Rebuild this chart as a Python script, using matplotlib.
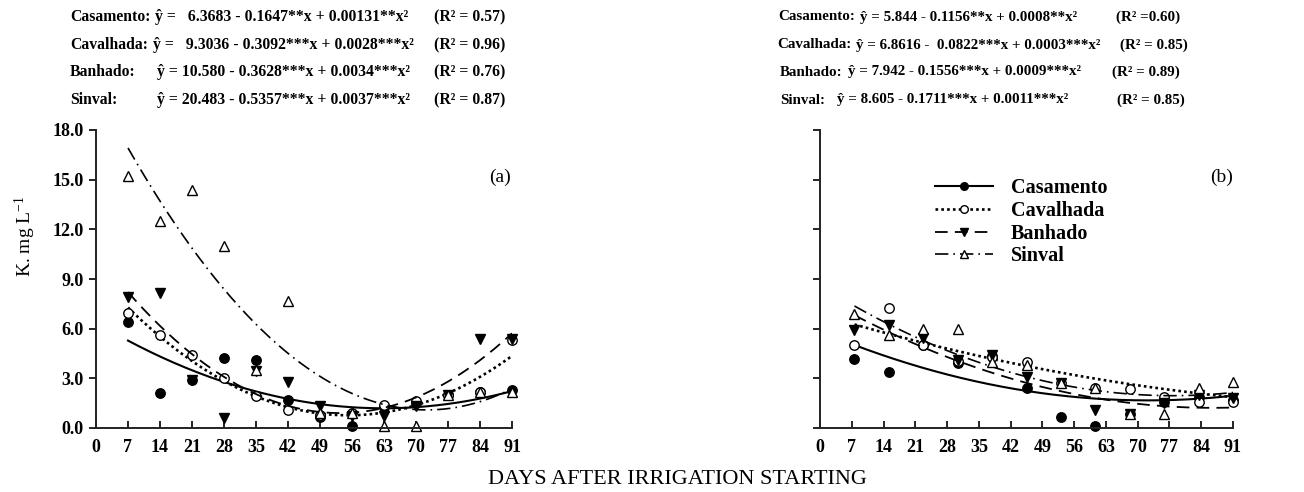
import numpy as np
import matplotlib
matplotlib.use('Agg')
import matplotlib.pyplot as plt
from matplotlib.lines import Line2D

plt.rcParams['font.family'] = ['Liberation Serif', 'DejaVu Serif']
plt.rcParams['mathtext.default'] = 'regular'

# datos
dias_a = [7, 14, 21, 28, 35, 42, 49, 56, 63, 70, 77, 84, 91]
casamento_a = [6.4, 2.1, 2.9, 4.25, 4.1, 1.7, 0.65, 0.12, 1.25, 1.5, 2.0, 2.2, 2.3]
cavalhada_a = [6.95, 5.6, 4.4, 3.05, 1.95, 1.1, 0.8, 0.9, 1.4, 1.65, 2.0, 2.2, 5.3]
banhado_a = [7.9, 8.15, 2.9, 0.6, 3.45, 2.8, 1.3, 0.7, 0.7, 1.3, 2.0, 5.35, 5.4]
sinval_a = [15.2, 12.5, 14.4, 11.0, 3.5, 7.7, 0.9, 0.9, 0.12, 0.12, 2.0, 2.2, 2.2]

dias_b = [7.6, 15.2, 22.8, 30.3, 37.9, 45.5, 53.1, 60.7, 68.3, 75.8, 83.4, 91.0]
casamento_b = [4.15, 3.4, 5.0, 3.95, 4.35, 2.4, 0.65, 0.15, 0.85, 1.6, 1.9, 1.7]
cavalhada_b = [5.0, 7.25, 5.0, 4.05, 4.3, 4.0, 2.7, 2.4, 2.35, 1.85, 1.6, 1.6]
banhado_b = [5.9, 6.2, 5.45, 4.1, 4.4, 3.1, 2.7, 1.1, 0.85, 1.5, 2.0, 1.8]
sinval_b = [6.9, 5.6, 6.0, 6.0, 4.0, 3.8, 2.7, 2.4, 0.85, 0.85, 2.4, 2.8]

# coeficientes de las ecuaciones (c0, c1, c2)
coef_casamento_a = [6.3683, -0.1647, 0.00131]
coef_cavalhada_a = [9.3036, -0.3092, 0.0028]
coef_banhado_a = [10.580, -0.3628, 0.0034]
coef_sinval_a = [20.483, -0.5357, 0.0037]
coef_casamento_b = [5.844, -0.1156, 0.0008]
coef_cavalhada_b = [6.8616, -0.0822, 0.0003]
coef_banhado_b = [7.942, -0.1556, 0.0009]
coef_sinval_b = [8.605, -0.1711, 0.0011]

nombres = ['Casamento', 'Cavalhada', 'Banhado', 'Sinval']
ticks_x = [0, 7, 14, 21, 28, 35, 42, 49, 56, 63, 70, 77, 84, 91]
ticks_y = [0.0, 3.0, 6.0, 9.0, 12.0, 15.0, 18.0]

estilos = [
    dict(ls='-', lw=1.5, marker='o', mfc='black', mec='black'),
    dict(ls=(0, (1, 1.2)), lw=1.9, marker='o', mfc='white', mec='black'),
    dict(ls=(0, (7, 4)), lw=1.3, marker='v', mfc='black', mec='black'),
    dict(ls=(0, (8, 3, 1, 3)), lw=1.2, marker='^', mfc='white', mec='black'),
]

W, H = 1304, 492
fig = plt.figure(figsize=(W / 100, H / 100), dpi=100)


def px(x0, y0, x1, y1):
    return [x0 / W, 1 - y1 / H, (x1 - x0) / W, (y1 - y0) / H]


def panel(ax, dias, series, coefs, etiqueta, pos_etiqueta, ylabels):
    for s, c, st in zip(series, coefs, estilos):
        xs = np.linspace(dias[0], dias[-1], 200)
        ys = c[0] + c[1] * xs + c[2] * xs ** 2
        ax.plot(xs, ys, color='black', ls=st['ls'], lw=st['lw'])
        ax.plot(dias, s, ls='none', marker=st['marker'], ms=6.8,
                mfc=st['mfc'], mec=st['mec'], mew=1.0, clip_on=False)
    ax.set_xlim(0, 91)
    ax.set_ylim(0, 18)
    ax.set_xticks(ticks_x)
    ax.set_yticks(ticks_y)
    if ylabels:
        ax.set_yticklabels(['%.1f' % t for t in ticks_y])
    else:
        ax.set_yticklabels([])
    for sp in ['top', 'right']:
        ax.spines[sp].set_visible(False)
    for sp in ['left', 'bottom']:
        ax.spines[sp].set_linewidth(1.4)
        ax.spines[sp].set_color('#222222')
    ax.tick_params(axis='x', direction='in', length=5, width=1.2,
                   labelsize=13, pad=8)
    ax.tick_params(axis='y', direction='out', length=5, width=1.2,
                   labelsize=13, pad=4)
    for lab in ax.get_xticklabels() + ax.get_yticklabels():
        lab.set_fontweight('bold')
    ax.text(pos_etiqueta, 0.84, etiqueta, transform=ax.transAxes, fontsize=14,
            ha='center', va='center')


ax1 = fig.add_axes(px(96, 130, 512, 428))
ax2 = fig.add_axes(px(820, 130, 1233, 428))

panel(ax1, dias_a, [casamento_a, cavalhada_a, banhado_a, sinval_a],
      [coef_casamento_a, coef_cavalhada_a, coef_banhado_a, coef_sinval_a], '(a)', 0.97, True)
panel(ax2, dias_b, [casamento_b, cavalhada_b, banhado_b, sinval_b],
      [coef_casamento_b, coef_cavalhada_b, coef_banhado_b, coef_sinval_b], '(b)', 0.972, False)

handles = [Line2D([], [], color='black', ls=st['ls'], lw=st['lw'], marker=st['marker'],
                  ms=5.5, mfc=st['mfc'], mec=st['mec']) for st in estilos]
fig.legend(handles, nombres, loc='upper left', bbox_to_anchor=(935 / W, 1 - 178 / H),
           frameon=False, handlelength=2.9, handletextpad=0.85,
           labelspacing=0.14, borderpad=0, borderaxespad=0,
           prop={'weight': 'bold', 'size': 14.5})

# ecuaciones
eq_a = ['ŷ =   6.3683 - 0.1647**x + 0.00131**x²',
        'ŷ =   9.3036 - 0.3092***x + 0.0028***x²',
        'ŷ = 10.580 - 0.3628***x + 0.0034***x²',
        'ŷ = 20.483 - 0.5357***x + 0.0037***x²']
r2_a = ['(R² = 0.57)', '(R² = 0.96)', '(R² = 0.76)', '(R² = 0.87)']
eq_b = ['ŷ = 5.844 - 0.1156**x + 0.0008**x²',
        'ŷ = 6.8616 -  0.0822***x + 0.0003***x²',
        'ŷ = 7.942 - 0.1556***x + 0.0009***x²',
        'ŷ = 8.605 - 0.1711***x + 0.0011***x²']
r2_b = ['(R² =0.60)', '(R² = 0.85)', '(R² = 0.89)', '(R² = 0.85)']

filas_y = [17, 45, 72, 100]
lab_x_a = [70, 70, 70, 70]
eq_x_a = [148, 152, 157, 157]
r2_x_a = [505, 505, 505, 505]
lab_x_b = [778, 777, 780, 780]
eq_x_b = [834, 837, 840, 837]
r2_x_b = [1180, 1188, 1180, 1185]

fig.canvas.draw()
rend = fig.canvas.get_renderer()
for labx, eqx, r2x, eqs, r2s, fs in [(lab_x_a, eq_x_a, r2_x_a, eq_a, r2_a, 11.3),
                                     (lab_x_b, eq_x_b, r2_x_b, eq_b, r2_b, 10.8)]:
    for i in range(4):
        y = 1 - filas_y[i] / H
        t = fig.text(labx[i] / W, y, nombres[i] + ':', fontsize=fs, weight='bold', va='center')
        fin = t.get_window_extent(rend).x1
        x_eq = max(eqx[i], fin + 5)
        fig.text(x_eq / W, y, eqs[i], fontsize=fs, weight='bold', va='center')
        fig.text(r2x[i] / W, y, r2s[i], fontsize=fs, weight='bold', va='center', ha='right')

fig.text(25 / W, 1 - 236 / H, 'K. mg L$^{-1}$', rotation=90, fontsize=14,
         ha='center', va='center')
fig.text(677 / W, 1 - 480 / H, 'DAYS AFTER IRRIGATION STARTING', fontsize=16,
         ha='center', va='center')

fig.savefig('out.png', dpi=100)
